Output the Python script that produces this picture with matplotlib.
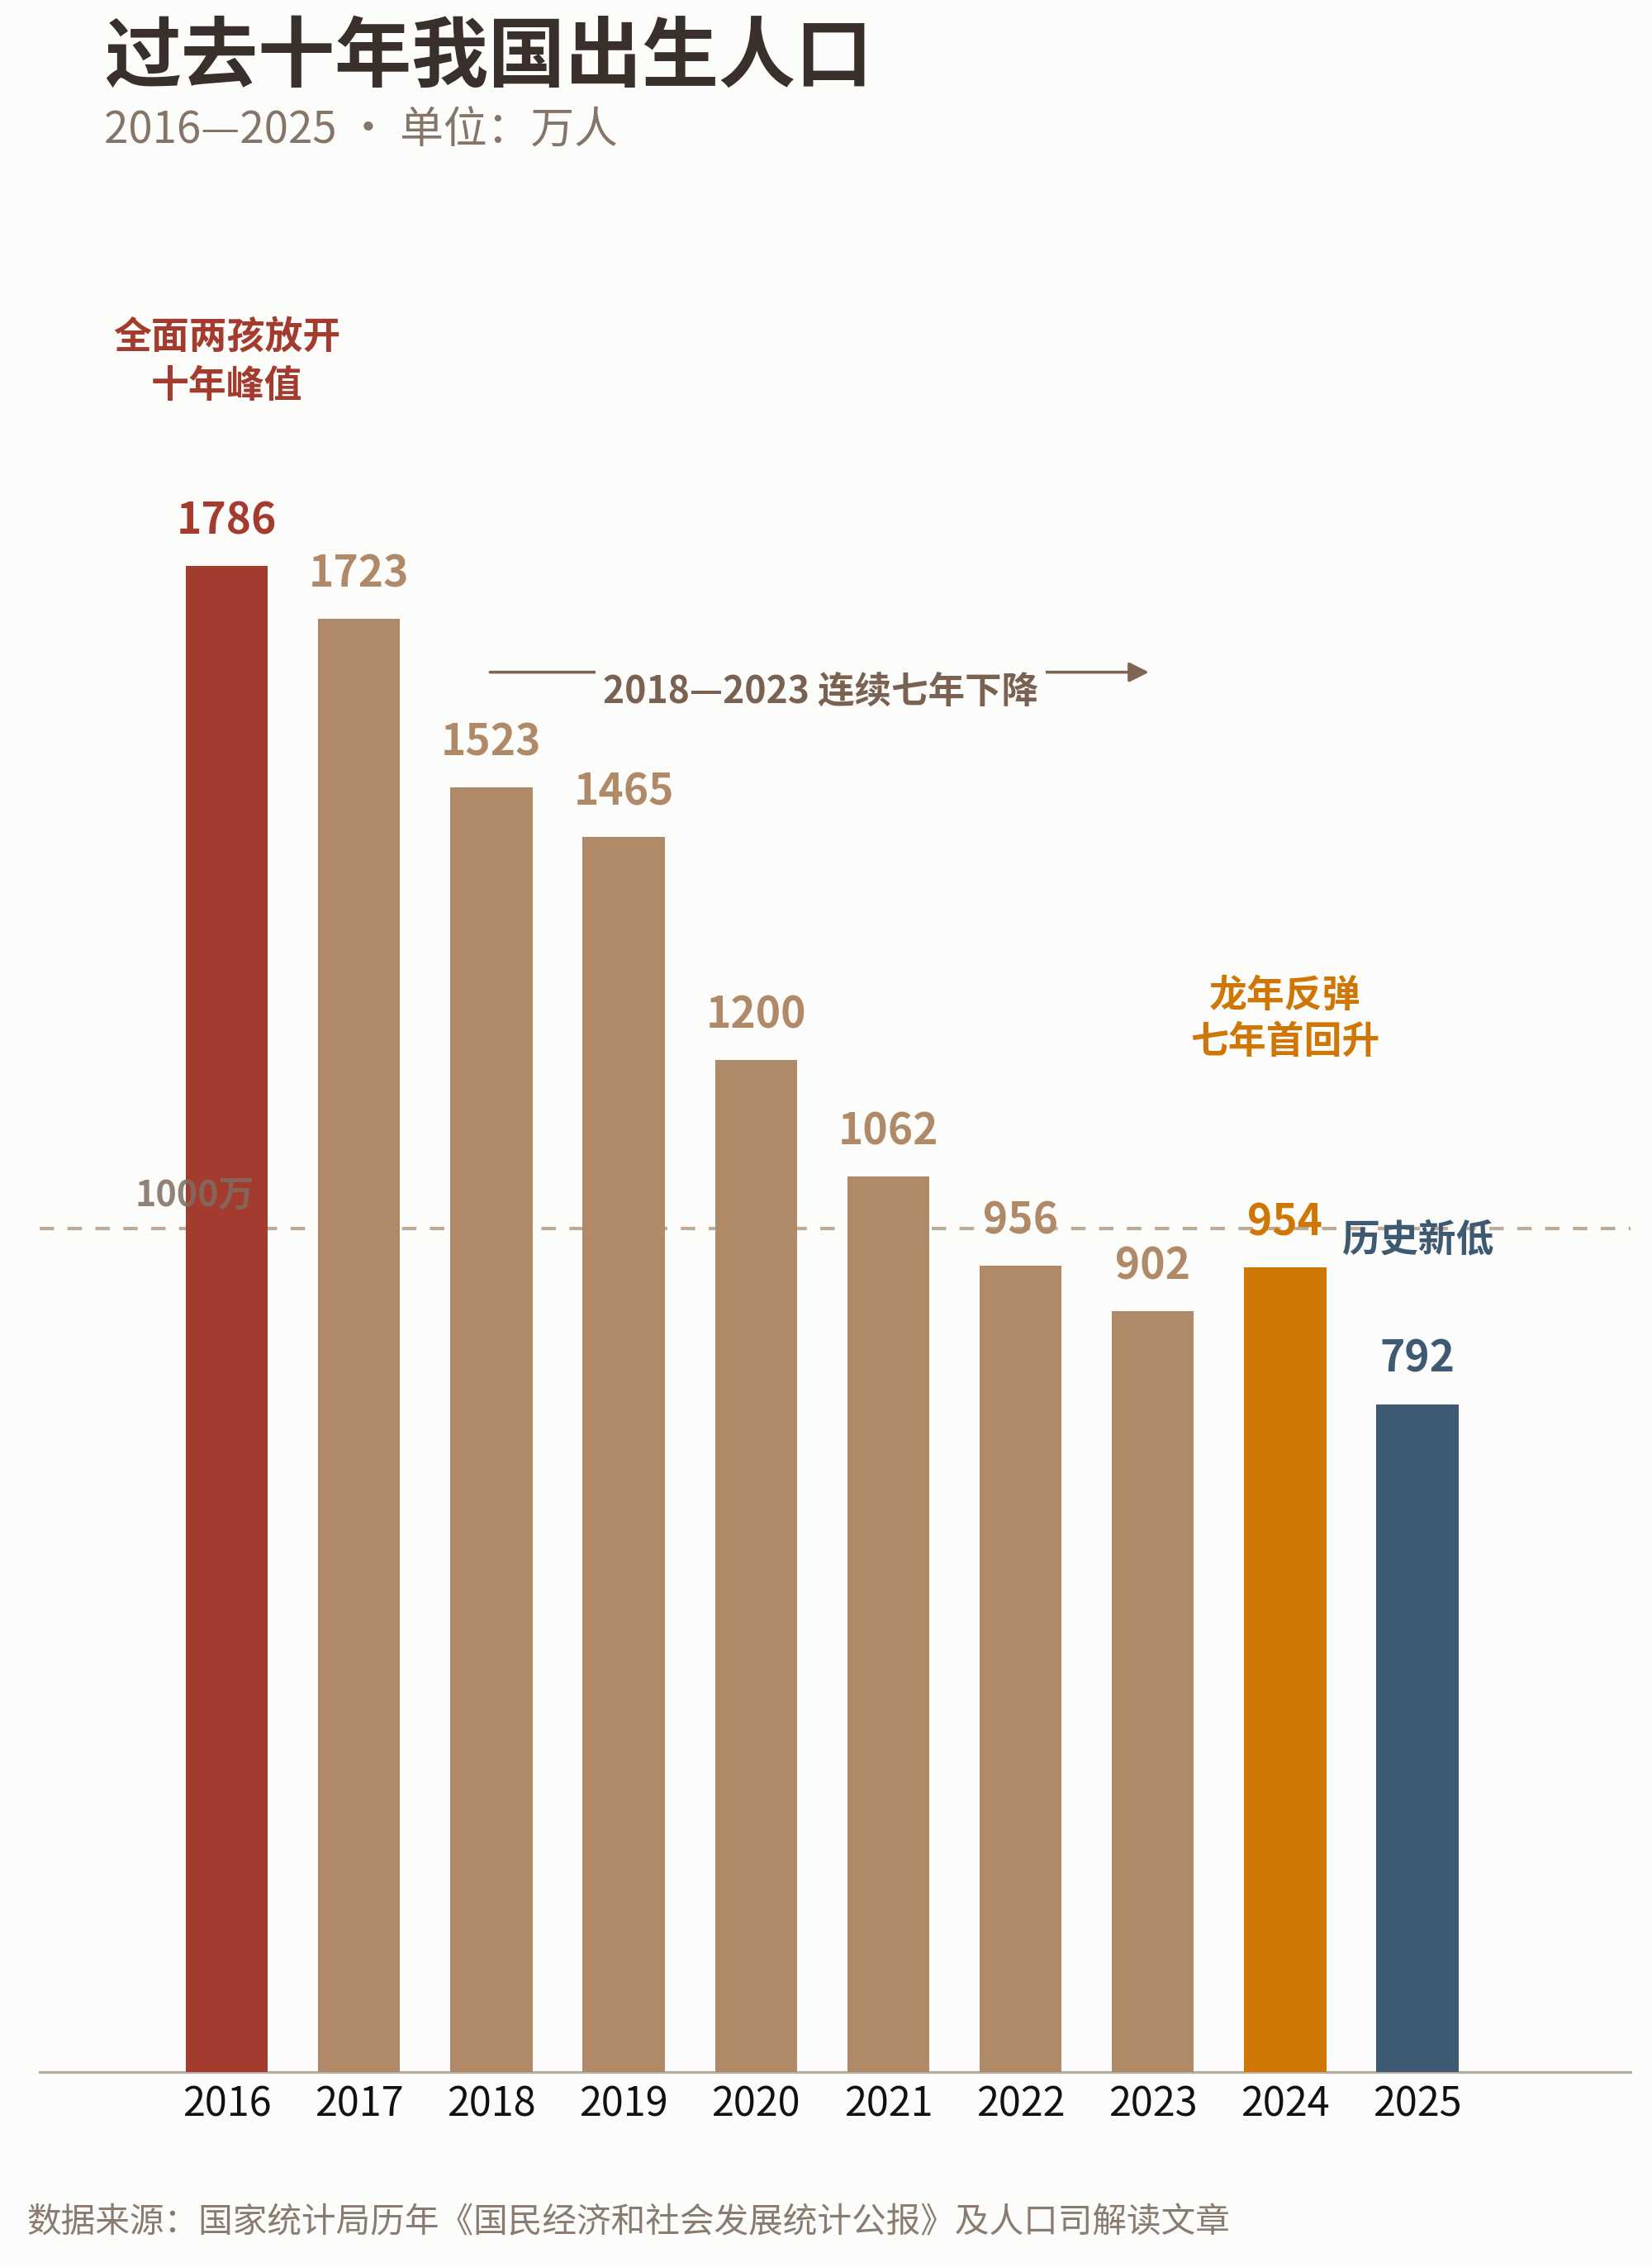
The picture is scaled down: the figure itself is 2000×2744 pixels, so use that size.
import matplotlib
matplotlib.use("Agg")
import matplotlib.pyplot as plt

plt.rcParams['font.family'] = ['Noto Sans CJK SC', 'DejaVu Sans']

# ---------------- data ----------------
years = ['2016', '2017', '2018', '2019', '2020', '2021', '2022', '2023', '2024', '2025']
births = [1786, 1723, 1523, 1465, 1200, 1062, 956, 902, 954, 792]
reference_level = 1000

title = '过去十年我国出生人口'
subtitle = '2016—2025 · 单位：万人'
source = '数据来源：国家统计局历年《国民经济和社会发展统计公报》及人口司解读文章'
peak_note = ['全面两孩放开', '十年峰值']
decline_note = '2018—2023 连续七年下降'
rebound_note = ['龙年反弹', '七年首回升']
low_note = '历史新低'
ref_label = '1000万'

# ---------------- styles ----------------
BG = '#fcfcfa'
RED = '#a33b2e'
TAN = '#b08a68'
ORANGE = '#d07605'
BLUE = '#3d5a72'
bar_colors = [RED, TAN, TAN, TAN, TAN, TAN, TAN, TAN, ORANGE, BLUE]

W, H = 2000, 2744
fig = plt.figure(figsize=(W / 100, H / 100), dpi=100, facecolor=BG)

# axes placement (pixels -> figure fraction)
ax_left, ax_right = 48, 1974
ax_base = 2508
px_per_unit = 1.0207
ymax = 2300
ax_top = ax_base - ymax * px_per_unit
ax = fig.add_axes([ax_left / W, 1 - ax_base / H, (ax_right - ax_left) / W,
                   (ax_base - ax_top) / H])
ax.set_facecolor(BG)

x = list(range(len(years)))
ax.bar(x, births, width=0.62, color=bar_colors, zorder=3)
ax.set_xlim(-1.414, 10.61)
ax.set_ylim(0, ymax)

# reference dashed line
ax.axhline(reference_level, color='#bfab95', lw=3.0, dashes=(4.2, 3.9), zorder=1)

# spines / ticks
for s in ['top', 'left', 'right']:
    ax.spines[s].set_visible(False)
ax.spines['bottom'].set_color('#b5aca2')
ax.spines['bottom'].set_linewidth(2.3)
ax.set_yticks([])
ax.set_xticks(x)
ax.set_xticklabels(years, fontsize=35, color='#111111')
ax.tick_params(axis='x', length=0, pad=11)

# value labels
for xi, v, c in zip(x, births, bar_colors):
    ax.annotate(str(v), xy=(xi, v), xytext=(0, 39), textcoords='offset points',
                ha='center', va='center', fontsize=37, fontweight='bold',
                color=c, zorder=6)

# 1000万 label
ax.text(-0.24, 1039.5, ref_label, ha='center', va='center', fontsize=31,
        fontweight='bold', color='#7f6d60', alpha=0.85, zorder=6)

# peak note
ax.text(0, 2057, peak_note[0], ha='center', va='center', fontsize=33,
        fontweight='bold', color=RED)
ax.text(0, 1999, peak_note[1], ha='center', va='center', fontsize=33,
        fontweight='bold', color=RED)

# decline arrow + note
ax.annotate('', xy=(6.97, 1660), xytext=(1.99, 1660),
            arrowprops=dict(arrowstyle='-|>', color='#7d6656', lw=2.6,
                            mutation_scale=36, shrinkA=0, shrinkB=0), zorder=4)
ax.text(4.49, 1636, decline_note, ha='center', va='center', fontsize=32,
        fontweight='bold', color='#7a6252', zorder=5,
        bbox=dict(boxstyle='square,pad=0.2', facecolor=BG, edgecolor='none'))

# rebound note
ax.text(8, 1276, rebound_note[0], ha='center', va='center', fontsize=33,
        fontweight='bold', color=ORANGE)
ax.text(8, 1221, rebound_note[1], ha='center', va='center', fontsize=33,
        fontweight='bold', color=ORANGE)

# low note
ax.text(8.43, 986, low_note, ha='left', va='center', fontsize=33,
        fontweight='bold', color=BLUE, zorder=6)

# title / subtitle / source
fig.text(126 / W, 1 - 70 / H, title, ha='left', va='center', fontsize=67,
         fontweight='heavy', color='#3a302b')
fig.text(126 / W, 1 - 158 / H, subtitle, ha='left', va='center', fontsize=38,
         color='#857568')
fig.text(32 / W, 1 - 2691 / H, source, ha='left', va='center', fontsize=30,
         color='#8a7b70')

fig.savefig('out.png', dpi=100, facecolor=BG)
